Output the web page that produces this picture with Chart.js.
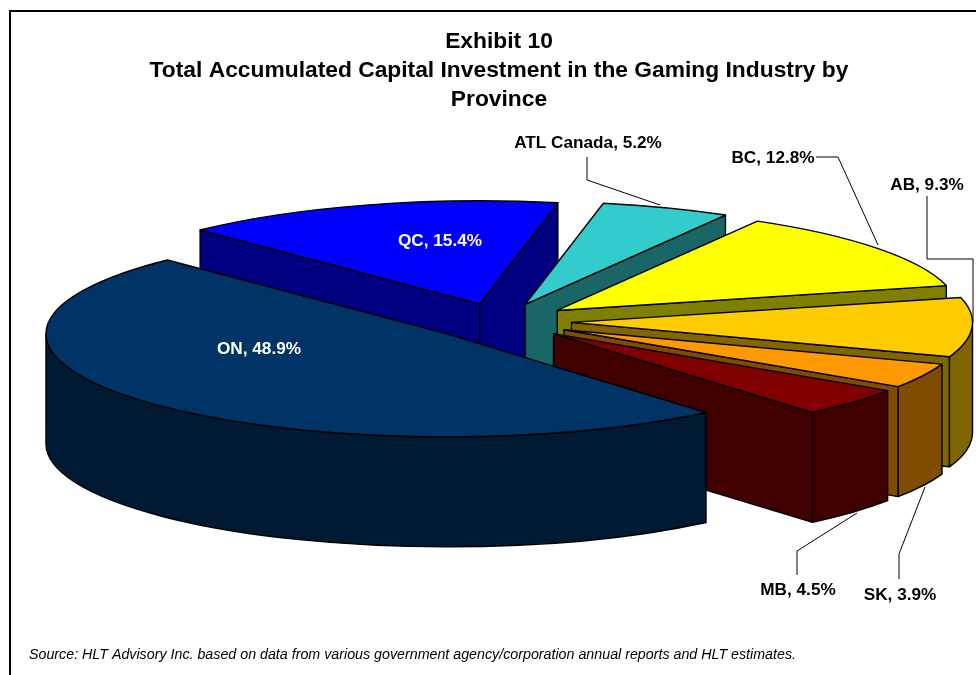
<!DOCTYPE html>
<html>
<head>
<meta charset="utf-8">
<title>Exhibit 10</title>
<script src="https://cdn.jsdelivr.net/npm/chart.js@4/dist/chart.umd.min.js"></script>
<style>
html, body { margin: 0; padding: 0; background: #fff; }
canvas { display: block; }
</style>
</head>
<body>
<canvas id="capitalChart" width="976" height="675"></canvas>
<script>
// Data, clockwise from the back left (QC is painted first, ON last)
const provinces = ["QC", "ATL Canada", "BC", "AB", "SK", "MB", "ON"];
const shares = [15.4, 5.2, 12.8, 9.3, 3.9, 4.5, 48.9];
const titleLines = [
    "Exhibit 10",
    "Total Accumulated Capital Investment in the Gaming Industry by",
    "Province"
];
const sourceNote = "Source: HLT Advisory Inc. based on data from various government agency/corporation annual reports and HLT estimates.";

// Styles
const topColors = ["#0000ff", "#33cccc", "#ffff00", "#ffcc00", "#ff9900", "#800000", "#003366"];
const sideColors = ["#000080", "#1a6666", "#808000", "#806600", "#804d00", "#400000", "#001a33"];
const labelColors = ["#fff", "#000", "#000", "#000", "#000", "#000", "#fff"];
const labelSpots = [[440, 241], [588, 143], [773, 158], [927, 185], [900, 595], [798, 590], [259, 349]];
const leaderLines = [
    [[587, 157], [587, 180], [660, 205]],
    [[816, 157], [838, 157], [878, 245]],
    [[927, 196], [927, 259], [973, 259], [973, 322]],
    [[899, 579], [899, 554], [925, 487]],
    [[797, 575], [797, 551], [857, 513]]
];

const view = { cx: 500, cy: 321.5, squash: 0.2569, depth: 110 };

// Chart.js lays out the arcs, this paints them tilted with a side wall
const tiltedPie = {
    id: "tiltedPie",
    beforeDraw(chart) {
        const ctx = chart.ctx;
        ctx.save();
        ctx.strokeStyle = "#000";
        ctx.lineWidth = 2;
        ctx.beginPath();
        ctx.moveTo(10, 675);
        ctx.lineTo(10, 11);
        ctx.lineTo(976, 11);
        ctx.stroke();
        ctx.restore();
    },
    beforeDatasetsDraw(chart) {
        const ctx = chart.ctx;
        const arcs = chart.getDatasetMeta(0).data;
        ctx.save();
        ctx.lineJoin = "round";
        ctx.strokeStyle = "#000";
        ctx.lineWidth = 1.4;
        arcs.forEach((arc, i) => drawSlice(ctx, arc, sideColors[i]));
        ctx.restore();
        return false;
    },
    afterDraw(chart) {
        const ctx = chart.ctx;
        ctx.save();
        ctx.strokeStyle = "#000";
        ctx.lineWidth = 1;
        leaderLines.forEach(line => {
            ctx.beginPath();
            line.forEach((p, i) => i ? ctx.lineTo(p[0], p[1]) : ctx.moveTo(p[0], p[1]));
            ctx.stroke();
        });
        ctx.font = "bold 17.2px 'Liberation Sans'";
        ctx.textAlign = "center";
        ctx.textBaseline = "middle";
        provinces.forEach((name, i) => {
            ctx.fillStyle = labelColors[i];
            ctx.fillText(name + ", " + shares[i].toFixed(1) + "%", labelSpots[i][0], labelSpots[i][1]);
        });
        ctx.font = "italic 14.25px 'Liberation Sans'";
        ctx.textAlign = "left";
        ctx.fillStyle = "#000";
        ctx.fillText(sourceNote, 29, 655);
        ctx.restore();
    }
};

function drawSlice(ctx, arc, sideColor) {
    const { startAngle: s, endAngle: e, outerRadius: r } = arc.getProps(["startAngle", "endAngle", "outerRadius"]);
    const mid = (s + e) / 2;
    const x = view.cx + Math.cos(mid) * arc.options.offset;
    const y = view.cy + Math.sin(mid) * arc.options.offset * view.squash;
    const ry = r * view.squash;
    const d = view.depth;
    const tip = a => [x + Math.cos(a) * r, y + Math.sin(a) * ry];

    const wall = a => {
        const t = tip(a);
        ctx.beginPath();
        ctx.moveTo(x, y);
        ctx.lineTo(t[0], t[1]);
        ctx.lineTo(t[0], t[1] + d);
        ctx.lineTo(x, y + d);
        ctx.closePath();
        ctx.fill();
        ctx.stroke();
    };

    ctx.fillStyle = sideColor;
    if (Math.cos(s) < 0) wall(s);
    if (Math.cos(e) > 0) wall(e);

    // outer rim, only the half that faces the viewer
    for (let n = -1; n <= 2; n++) {
        const lo = Math.max(s, n * 2 * Math.PI);
        const hi = Math.min(e, Math.PI + n * 2 * Math.PI);
        if (lo >= hi) continue;
        ctx.beginPath();
        ctx.ellipse(x, y, r, ry, 0, lo, hi);
        ctx.ellipse(x, y + d, r, ry, 0, hi, lo, true);
        ctx.closePath();
        ctx.fill();
        ctx.stroke();
    }

    ctx.fillStyle = arc.options.backgroundColor;
    ctx.beginPath();
    ctx.moveTo(x, y);
    ctx.ellipse(x, y, r, ry, 0, s, e);
    ctx.closePath();
    ctx.fill();
    ctx.stroke();
}

new Chart(document.getElementById("capitalChart"), {
    type: "pie",
    data: {
        labels: provinces,
        datasets: [{
            data: shares,
            backgroundColor: topColors,
            borderColor: "#000",
            offset: 71.6,
            radius: 401
        }]
    },
    options: {
        responsive: false,
        animation: false,
        rotation: 315.8,
        layout: { padding: { left: 22 } },
        plugins: {
            legend: { display: false },
            tooltip: { enabled: false },
            title: {
                display: true,
                text: titleLines,
                color: "#000",
                font: { family: "'Liberation Sans'", size: 22.8, weight: "bold", lineHeight: 1.27 },
                padding: { top: 27, bottom: 10 }
            }
        }
    },
    plugins: [tiltedPie]
});
</script>
</body>
</html>
